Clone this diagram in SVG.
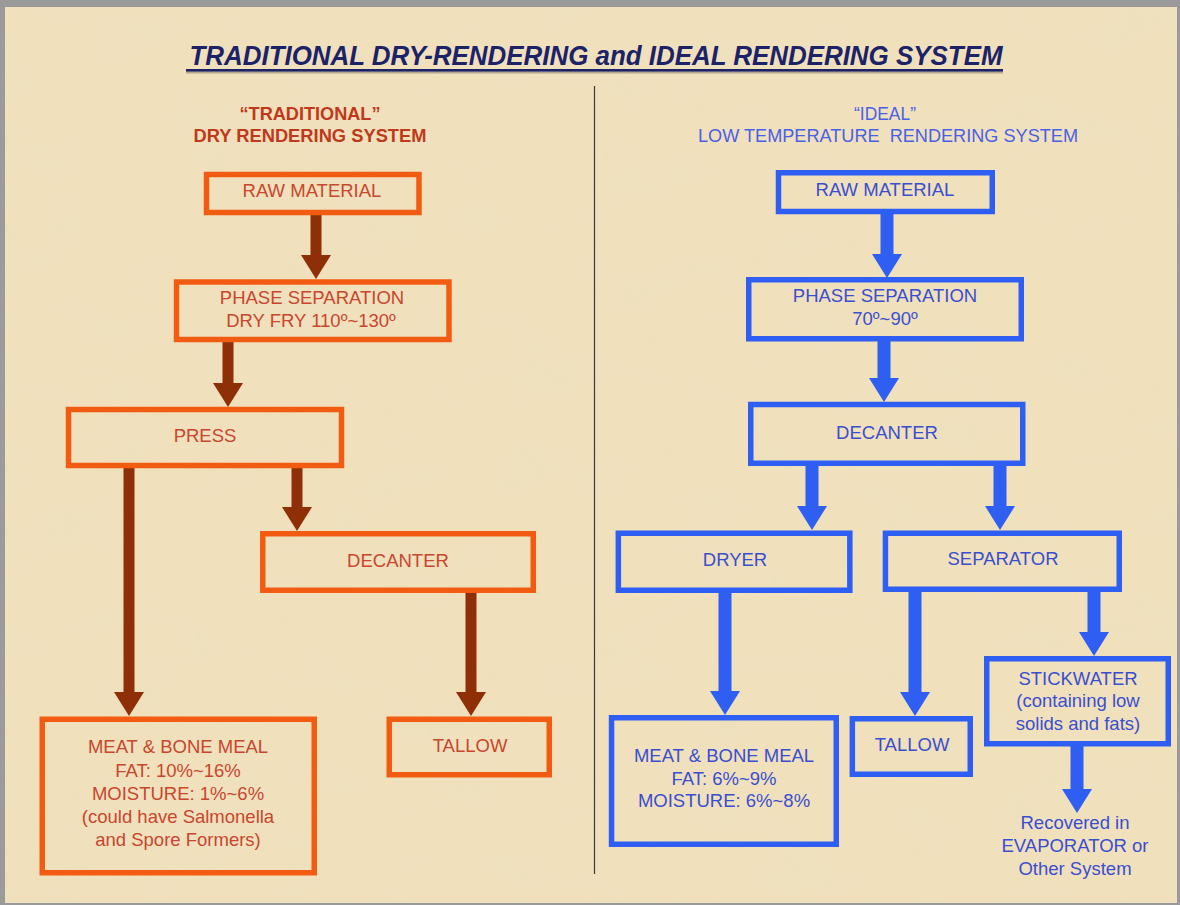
<svg xmlns="http://www.w3.org/2000/svg" width="1180" height="905" viewBox="0 0 1180 905">
<defs>
<filter id="tex" x="0" y="0" width="100%" height="100%">
<feTurbulence type="fractalNoise" baseFrequency="0.012 0.02" numOctaves="4" seed="7" result="n"/>
<feColorMatrix type="matrix" values="0 0 0 0 0.86  0 0 0 0 0.76  0 0 0 0 0.55  0 0 0 1.1 -0.45"/>
</filter>
<style>
.ob{fill:none;stroke:#f25c12;stroke-width:5.5}
.bb{fill:none;stroke:#2e5ff2;stroke-width:5.5}
.ot{font-family:"Liberation Sans",Arial,sans-serif;font-size:18.5px;fill:#c8472e;text-anchor:middle}
.bt{font-family:"Liberation Sans",Arial,sans-serif;font-size:18.5px;fill:#3a4fd0;text-anchor:middle}
.oa{fill:#8e2f07}
.ba{fill:#2e5ff2}
</style>
</defs>
<rect x="0" y="0" width="1180" height="905" fill="#9a9a9a"/>
<rect x="5" y="7" width="1172" height="896" fill="#f0e0bc"/>
<rect x="5" y="7" width="1172" height="896" filter="url(#tex)" opacity="0.5"/>

<g id="title">
<text x="596" y="65" font-family="Liberation Sans,Arial,sans-serif" font-size="27" font-weight="bold" font-style="italic" fill="#1b2268" text-anchor="middle" textLength="813" lengthAdjust="spacingAndGlyphs">TRADITIONAL DRY-RENDERING and IDEAL RENDERING SYSTEM</text>
<rect x="186" y="71.5" width="817" height="2" fill="#8a8070" opacity="0.6"/>
<rect x="186" y="69" width="817" height="2.6" fill="#1b2268"/>
</g>

<g id="subtitle-left" font-family="Liberation Sans,Arial,sans-serif" font-weight="bold" fill="#c0391b" text-anchor="middle">
<text x="310" y="120" font-size="19" textLength="141" lengthAdjust="spacingAndGlyphs">“TRADITIONAL”</text>
<text x="310" y="142" font-size="19" textLength="233" lengthAdjust="spacingAndGlyphs">DRY RENDERING SYSTEM</text>
</g>
<g id="subtitle-right" font-family="Liberation Sans,Arial,sans-serif" fill="#4a60e6" text-anchor="middle">
<text x="885" y="120" font-size="19" textLength="62" lengthAdjust="spacingAndGlyphs">“IDEAL”</text>
<text x="888" y="142" font-size="19" textLength="380" lengthAdjust="spacingAndGlyphs" xml:space="preserve">LOW TEMPERATURE  RENDERING SYSTEM</text>
</g>

<line id="divider" x1="594.5" y1="86" x2="594.5" y2="874" stroke="#3a3a3a" stroke-width="1.2"/>

<g id="connectors">
<path class="oa" d="M310.5,214 H321.5 V255 H331 L316,279 L301,255 H310.5 Z"/>
<path class="oa" d="M222.5,341 H233.5 V383 H243 L228,407 L213,383 H222.5 Z"/>
<path class="oa" d="M123.5,468 H134.5 V692 H144 L129,716 L114,692 H123.5 Z"/>
<path class="oa" d="M291.5,468 H302.5 V507 H312 L297,531 L282,507 H291.5 Z"/>
<path class="oa" d="M465.5,593 H476.5 V692 H486 L471,716 L456,692 H465.5 Z"/>
<path class="ba" d="M880.5,213 H893.5 V254 H902 L887,278 L872,254 H880.5 Z"/>
<path class="ba" d="M877.5,341 H890.5 V378 H899 L884,402 L869,378 H877.5 Z"/>
<path class="ba" d="M805.5,466 H818.5 V506 H827 L812,530 L797,506 H805.5 Z"/>
<path class="ba" d="M993.5,466 H1006.5 V506 H1015 L1000,530 L985,506 H993.5 Z"/>
<path class="ba" d="M718.5,593 H731.5 V691 H740 L725,715 L710,691 H718.5 Z"/>
<path class="ba" d="M908.5,592 H921.5 V692 H930 L915,716 L900,692 H908.5 Z"/>
<path class="ba" d="M1087.5,592 H1100.5 V632 H1109 L1094,656 L1079,632 H1087.5 Z"/>
<path class="ba" d="M1070.5,746 H1083.5 V789 H1092 L1077,813 L1062,789 H1070.5 Z"/>
</g>

<g id="l-raw"><rect class="ob" x="206.5" y="174.5" width="212.5" height="38"/><text class="ot" x="312" y="197">RAW MATERIAL</text></g>
<g id="l-phase"><rect class="ob" x="176.5" y="282" width="272.5" height="57.5"/><text class="ot" x="312" y="304">PHASE SEPARATION</text><text class="ot" x="311" y="327">DRY FRY 110º~130º</text></g>
<g id="l-press"><rect class="ob" x="68.5" y="409.5" width="273" height="56"/><text class="ot" x="205" y="442">PRESS</text></g>
<g id="l-decanter"><rect class="ob" x="262.75" y="533.75" width="270.5" height="56.5"/><text class="ot" x="398" y="567">DECANTER</text></g>
<g id="l-tallow"><rect class="ob" x="389.25" y="719.25" width="160" height="55.5"/><text class="ot" x="470" y="752">TALLOW</text></g>
<g id="l-mbm"><rect class="ob" x="42.25" y="719.25" width="272" height="153.5"/>
<text class="ot" x="178" y="753">MEAT &amp; BONE MEAL</text>
<text class="ot" x="178" y="777">FAT: 10%~16%</text>
<text class="ot" x="178" y="800">MOISTURE: 1%~6%</text>
<text class="ot" x="178" y="823">(could have Salmonella</text>
<text class="ot" x="178" y="846">and Spore Formers)</text>
</g>

<g id="r-raw"><rect class="bb" x="778.5" y="172.75" width="213.75" height="38.75"/><text class="bt" x="885" y="196">RAW MATERIAL</text></g>
<g id="r-phase"><rect class="bb" x="748.75" y="279.75" width="272.5" height="59"/><text class="bt" x="885" y="302">PHASE SEPARATION</text><text class="bt" x="885" y="325">70º~90º</text></g>
<g id="r-decanter"><rect class="bb" x="750.75" y="404.5" width="272" height="58.75"/><text class="bt" x="887" y="439">DECANTER</text></g>
<g id="r-dryer"><rect class="bb" x="618.35" y="533.25" width="231.5" height="57"/><text class="bt" x="735" y="566">DRYER</text></g>
<g id="r-separator"><rect class="bb" x="885.45" y="533.25" width="233.8" height="56"/><text class="bt" x="1003" y="565">SEPARATOR</text></g>
<g id="r-mbm"><rect class="bb" x="611.55" y="717.75" width="224.7" height="126.5"/>
<text class="bt" x="724" y="762">MEAT &amp; BONE MEAL</text>
<text class="bt" x="724" y="785">FAT: 6%~9%</text>
<text class="bt" x="724" y="807">MOISTURE: 6%~8%</text>
</g>
<g id="r-tallow"><rect class="bb" x="852.35" y="718.75" width="117.9" height="55.5"/><text class="bt" x="912" y="751">TALLOW</text></g>
<g id="r-stickwater"><rect class="bb" x="986.75" y="658.75" width="181.5" height="85"/>
<text class="bt" x="1078" y="685">STICKWATER</text>
<text class="bt" x="1078" y="707">(containing low</text>
<text class="bt" x="1078" y="730">solids and fats)</text>
</g>
<g id="r-recovered">
<text class="bt" x="1075" y="829">Recovered in</text>
<text class="bt" x="1075" y="852">EVAPORATOR or</text>
<text class="bt" x="1075" y="875">Other System</text>
</g>
</svg>
